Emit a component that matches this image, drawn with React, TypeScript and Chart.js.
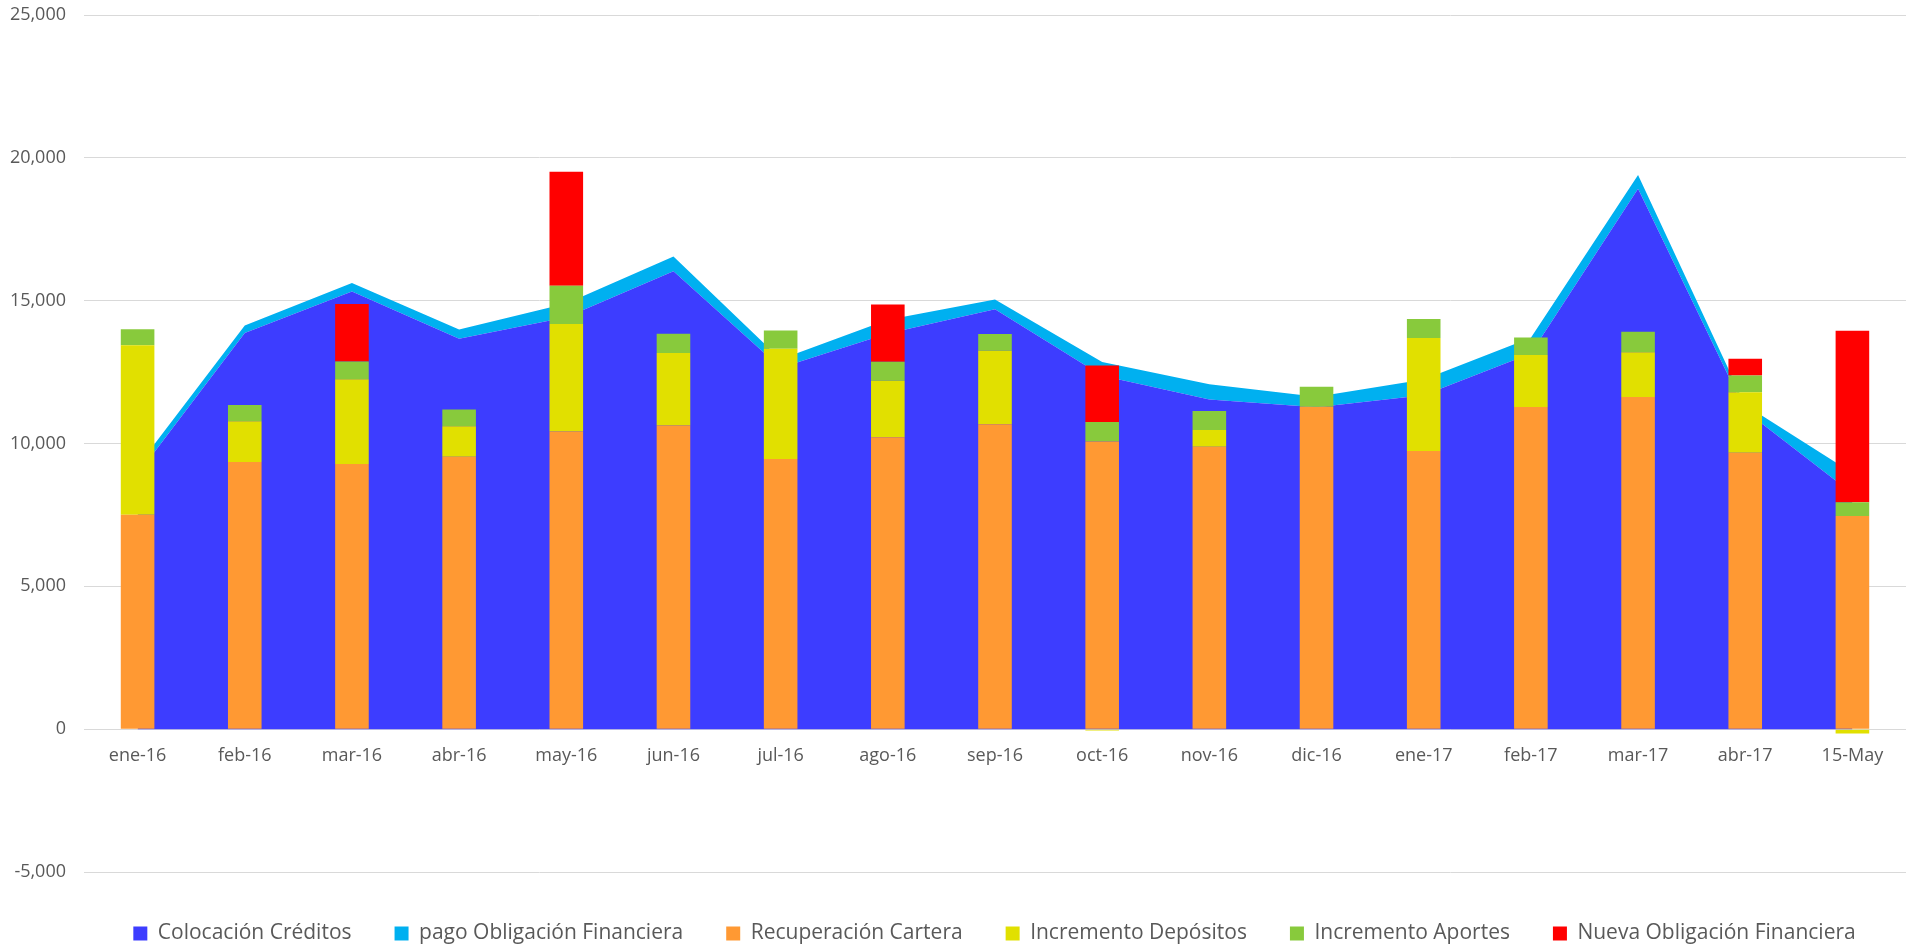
import { useEffect, useRef } from 'react';
import { Chart, registerables } from 'chart.js';

Chart.register(...registerables);

const categories = ['ene-16', 'feb-16', 'mar-16', 'abr-16', 'may-16', 'jun-16', 'jul-16', 'ago-16', 'sep-16', 'oct-16', 'nov-16', 'dic-16', 'ene-17', 'feb-17', 'mar-17', 'abr-17', '15-May'];

const colocacionCreditos = [8920, 13870, 15320, 13670, 14420, 16030, 12650, 13850, 14700, 12370, 11540, 11270, 11690, 13150, 18920, 11150, 8250];
const pagoObligacionFinanciera = [280, 260, 300, 320, 480, 520, 300, 480, 340, 480, 530, 370, 550, 550, 480, 200, 720];
const recuperacionCartera = [7510, 9350, 9280, 9540, 10420, 10630, 9460, 10220, 10670, 10070, 9890, 11290, 9740, 11280, 11630, 9680, 7460];
const incrementoDepositos = [5930, 1430, 2970, 1060, 3760, 2540, 3860, 1980, 2580, -50, 580, 0, 3950, 1820, 1560, 2110, -150];
const incrementoAportes = [560, 570, 620, 590, 1340, 670, 640, 660, 580, 680, 670, 700, 670, 610, 720, 590, 480];
const nuevaObligacionFinanciera = [0, 0, 2010, 0, 3990, 0, 0, 2010, 0, 1980, 0, 0, 0, 0, 0, 590, 6010];

const yMin = -5000;
const yMax = 25000;
const yStep = 5000;

const textColor = '#595959';
const fontFamily = '"Open Sans", "Noto Sans", sans-serif';

const legendShift = {
  id: 'legendShift',
  afterLayout(chart: any) {
    if (chart.legend) {
      chart.legend.left = 83;
      chart.legend.top += 8;
    }
  },
};

export default function App() {
  const canvasRef = useRef<HTMLCanvasElement>(null);

  useEffect(() => {
    if (!canvasRef.current) return;
    const chart = new Chart(canvasRef.current, {
      type: 'bar',
      plugins: [legendShift],
      data: {
        labels: categories,
        datasets: [
          {
            type: 'line',
            label: 'Colocación Créditos',
            data: colocacionCreditos,
            backgroundColor: '#3D3DFF',
            borderColor: '#3D3DFF',
            borderWidth: 0,
            pointRadius: 0,
            tension: 0,
            fill: 'origin',
            order: 1,
          },
          {
            type: 'line',
            label: 'pago Obligación Financiera',
            data: pagoObligacionFinanciera,
            backgroundColor: '#00B0F0',
            borderColor: '#00B0F0',
            borderWidth: 0,
            pointRadius: 0,
            tension: 0,
            fill: '-1',
            order: 1,
          },
          {
            label: 'Recuperación Cartera',
            data: recuperacionCartera,
            backgroundColor: '#FF9933',
            borderWidth: 0,
            order: 0,
          },
          {
            label: 'Incremento Depósitos',
            data: incrementoDepositos,
            backgroundColor: '#E1E000',
            borderWidth: 0,
            order: 0,
          },
          {
            label: 'Incremento Aportes',
            data: incrementoAportes,
            backgroundColor: '#88CA3C',
            borderWidth: 0,
            order: 0,
          },
          {
            label: 'Nueva Obligación Financiera',
            data: nuevaObligacionFinanciera,
            backgroundColor: '#FF0000',
            borderWidth: 0,
            order: 0,
          },
        ] as any,
      },
      options: {
        animation: false,
        responsive: true,
        maintainAspectRatio: false,
        datasets: {
          bar: { categoryPercentage: 1, barPercentage: 0.3135 },
        },
        layout: { padding: { left: 0, right: 9, top: 15, bottom: 2 } },
        plugins: {
          tooltip: { enabled: false },
          legend: {
            position: 'bottom',
            labels: {
              boxWidth: 14,
              boxHeight: 14,
              padding: 43,
              color: textColor,
              font: { family: fontFamily, size: 21 },
              sort: (a: any, b: any) => a.datasetIndex - b.datasetIndex,
            },
          },
        },
        scales: {
          x: {
            type: 'category',
            stacked: true,
            position: { y: 0 } as any,
            offset: true,
            grid: { display: false, drawTicks: false },
            border: { display: false },
            ticks: {
              color: textColor,
              font: { family: fontFamily, size: 18 },
              padding: 16,
              maxRotation: 0,
              autoSkip: false,
            },
            afterFit: (s: any) => { s.height = 0; },
          },
          y: {
            stacked: true,
            min: yMin,
            max: yMax,
            grid: { color: '#D9D9D9', lineWidth: 1, drawTicks: false },
            border: { display: false },
            ticks: {
              stepSize: yStep,
              color: textColor,
              font: { family: fontFamily, size: 18 },
              padding: 18,
              callback: (v: any) => Number(v).toLocaleString('en-US'),
            },
            afterFit: (s: any) => {
              s.width = 84;
              s.paddingTop = 0;
              s.paddingBottom = 0;
            },
          },
        },
      } as any,
    });
    return () => chart.destroy();
  }, []);

  return (
    <div style={{ position: 'fixed', left: 0, top: 0, width: '1915px', height: '948px', background: '#fff' }}>
      <canvas ref={canvasRef} />
    </div>
  );
}
